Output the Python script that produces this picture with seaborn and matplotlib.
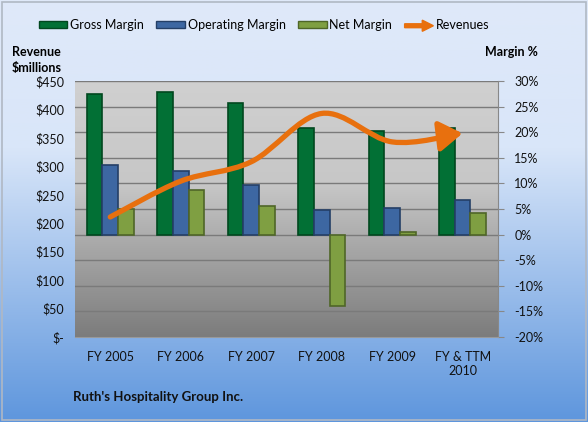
import numpy as np
import pandas as pd
import matplotlib
matplotlib.use("Agg")
import matplotlib.pyplot as plt
import seaborn as sns
from matplotlib.path import Path
from matplotlib.patches import FancyArrowPatch, Patch, FancyArrow
from matplotlib.colors import LinearSegmentedColormap
from matplotlib.legend_handler import HandlerPatch

# -------------------- DATOS --------------------
years = ["FY 2005", "FY 2006", "FY 2007", "FY 2008", "FY 2009", "FY & TTM\n2010"]
gross_margin = [27.4, 27.8, 25.8, 20.9, 20.3, 20.8]
operating_margin = [13.5, 12.4, 9.7, 4.9, 5.2, 6.7]
net_margin = [5.1, 8.7, 5.6, -13.9, 0.6, 4.3]
revenues = [211, 274, 308, 393, 343, 358]

series_names = ["Gross Margin", "Operating Margin", "Net Margin"]
bar_colors = ["#027035", "#3D67A2", "#7F9F42"]
edge_colors = ["#01481f", "#243f66", "#4f6628"]
line_color = "#E8700E"

df = pd.DataFrame({
    "year": years * 3,
    "metric": [series_names[0]] * 6 + [series_names[1]] * 6 + [series_names[2]] * 6,
    "margin": gross_margin + operating_margin + net_margin,
})

plt.rcParams["font.family"] = ["Lato", "DejaVu Sans"]

fig = plt.figure(figsize=(5.88, 4.22), dpi=100)

# -------------------- FONDO --------------------
bg = fig.add_axes([0, 0, 1, 1])
bg_cmap = LinearSegmentedColormap.from_list(
    "bg", [(0, "#dfe9f9"), (0.35, "#d9e6f9"), (1, "#5e96dd")])
bg.imshow(np.linspace(0, 1, 256).reshape(-1, 1), aspect="auto", cmap=bg_cmap,
          extent=[0, 1, 0, 1])
bg.set_xlim(0, 1)
bg.set_ylim(0, 1)
bg.axis("off")
bg.add_patch(plt.Rectangle((0.003, 0.004), 0.994, 0.992, fill=False,
                           edgecolor="#b0b8c4", lw=1.2))

ax = fig.add_axes([0.1276, 0.2014, 0.719, 0.6066])
ax2 = ax.twinx()

# degradado del area de trazado
plot_cmap = LinearSegmentedColormap.from_list(
    "plot", [(0, "#7c7c7c"), (0.45, "#b4b4b4"), (0.6, "#c7c7c7"), (1, "#d0d0d0")])
ax.imshow(np.linspace(0, 1, 256).reshape(-1, 1), aspect="auto", cmap=plot_cmap,
          origin="lower", extent=[-0.5, 5.5, -20, 30], zorder=0)

# -------------------- BARRAS (MARGENES) --------------------
sns.barplot(data=df, x="year", y="margin", hue="metric", palette=bar_colors,
            width=0.67, ax=ax, legend=False, saturation=1, zorder=3)
for cont, ec in zip(ax.containers, edge_colors):
    for bar in cont:
        bar.set_edgecolor(ec)
        bar.set_linewidth(1.2)

ax.set_xlim(-0.5, 5.5)
ax.set_ylim(-20, 30)
ax.set_yticks(np.arange(-20, 31, 5))
ax.set_yticklabels([f"{v}%" for v in range(-20, 31, 5)])
ax.yaxis.tick_right()
ax.yaxis.set_label_position("right")
ax.grid(axis="y", color="#7a7a7a", lw=1, zorder=1)
ax.set_axisbelow(True)
ax.set_xlabel("")
ax.set_ylabel("")
ax.tick_params(axis="y", right=True, length=4, color="#888888", labelsize=9,
               pad=8, labelcolor="#111111")
ax.tick_params(axis="x", length=0, labelsize=9, pad=10, labelcolor="#111111")
for s in ["top", "left"]:
    ax.spines[s].set_visible(False)
ax.spines["right"].set_color("#888888")
ax.spines["bottom"].set_color("#999999")

# -------------------- LINEA DE INGRESOS --------------------
x = np.arange(len(revenues), dtype=float)
y = np.array(revenues, dtype=float)
pts = np.column_stack([x, y])
verts = [pts[0]]
codes = [Path.MOVETO]
for i in range(len(pts) - 1):
    p0 = pts[i - 1] if i > 0 else pts[i]
    p1 = pts[i]
    p2 = pts[i + 1]
    p3 = pts[i + 2] if i + 2 < len(pts) else pts[i + 1]
    c1 = p1 + (p2 - p0) / 6
    c2 = p2 - (p3 - p1) / 6
    verts += [c1, c2, p2]
    codes += [Path.CURVE4] * 3
arrow = FancyArrowPatch(path=Path(verts, codes),
                        arrowstyle="-|>,head_length=1.0,head_width=0.65",
                        mutation_scale=14, color=line_color, lw=3.8,
                        capstyle="round", joinstyle="round", zorder=5)
ax2.add_patch(arrow)
ax2.set_ylim(0, 450)
ax2.set_yticks(np.arange(0, 451, 50))
ax2.set_yticklabels(["$-"] + [f"${v}" for v in range(50, 451, 50)])
ax2.yaxis.tick_left()
ax2.tick_params(axis="y", length=0, labelsize=9, pad=8, labelcolor="#111111")
for s in ["top", "right", "left", "bottom"]:
    ax2.spines[s].set_visible(False)

# -------------------- LEYENDA --------------------
def make_arrow(legend, orig_handle, xdescent, ydescent, width, height, fontsize):
    return FancyArrow(0, height / 2, width, 0, width=2.8, head_width=8,
                      head_length=8, length_includes_head=True, color=line_color)

handles = [Patch(facecolor=c, edgecolor=e, lw=1) for c, e in zip(bar_colors, edge_colors)]
arrow_handle = Patch(color=line_color)
handles.append(arrow_handle)
fig.legend(handles, series_names + ["Revenues"], loc="center",
           bbox_to_anchor=(0.449, 0.941), ncol=4, frameon=False, fontsize=9,
           handlelength=2.3, handleheight=0.4, columnspacing=1.0, handletextpad=0.2,
           borderpad=0, borderaxespad=0,
           handler_map={arrow_handle: HandlerPatch(patch_func=make_arrow)})

fig.text(0.02, 0.877, "Revenue", fontsize=9, fontweight="bold", va="center")
fig.text(0.02, 0.838, "$millions", fontsize=9, fontweight="bold", va="center")
fig.text(0.825, 0.877, "Margin %", fontsize=9, fontweight="bold", va="center")
fig.text(0.124, 0.06, "Ruth's Hospitality Group Inc.", fontsize=9.5,
         fontweight="bold", va="center", color="#111111")

fig.savefig("out.png", dpi=100)
